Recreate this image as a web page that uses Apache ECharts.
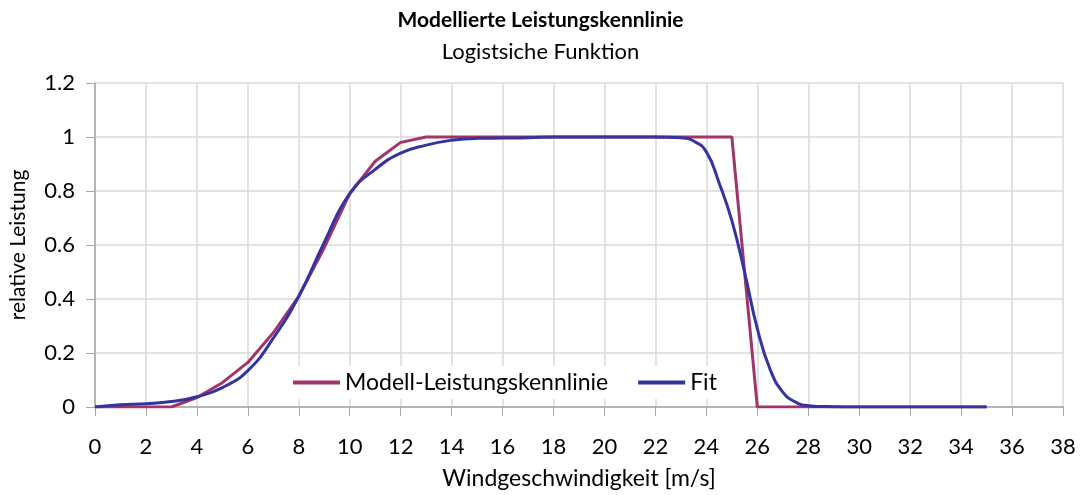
<!DOCTYPE html>
<html>
<head>
<meta charset="utf-8">
<script src="https://cdn.jsdelivr.net/npm/echarts@6/dist/echarts.min.js"></script>
<style>html,body{margin:0;padding:0;background:#fff;overflow:hidden}#c{width:1081px;height:495px}</style>
</head>
<body>
<div id="c"></div>
<script>
const modelX = [0,1,2,3,4,5,6,7,8,9,10,11,12,13,14,15,16,17,18,19,20,21,22,23,24,25,26,27,28,29,30,31,32,33,34,35];
const modelY = [0,0,0,0,0.035,0.09,0.165,0.275,0.41,0.59,0.79,0.91,0.98,1,1,1,1,1,1,1,1,1,1,1,1,1,0,0,0,0,0,0,0,0,0,0];
const fitX = [0,1,2,3,4,5,6,7,8,9,10,11,12,13,14,15,16,17,18,19,20,21,22,23,23.5,24,24.5,25,25.5,26,26.5,27,27.5,28,29,30,31,32,33,34,35];
const fitY = [0,0.008,0.012,0.02,0.038,0.072,0.135,0.255,0.41,0.61,0.79,0.88,0.94,0.97,0.988,0.995,0.996,0.997,1,1,1,1,1,0.997,0.985,0.945,0.83,0.69,0.5,0.29,0.14,0.055,0.018,0.005,0.001,0,0,0,0,0,0];
const seriesNames = ['Modell-Leistungskennlinie','Fit'];
const titleText = 'Modellierte Leistungskennlinie';
const subtitleText = 'Logistsiche Funktion';
const xName = 'Windgeschwindigkeit [m/s]';
const yName = 'relative Leistung';

const FONT = 'Lato';
const chart = echarts.init(document.getElementById('c'), null, {renderer:'canvas'});
chart.setOption({
  animation:false,
  backgroundColor:'#fff',
  textStyle:{fontFamily:FONT},
  title:[
    {text:titleText,left:'center',top:5,textStyle:{fontFamily:FONT,fontWeight:'bold',fontSize:21,color:'#000'}},
    {text:subtitleText,left:'center',top:36,textStyle:{fontFamily:FONT,fontWeight:'normal',fontSize:22,color:'#000'}}
  ],
  legend:{
    data:seriesNames,
    left:287, top:366,
    backgroundColor:'#fff',
    padding:[5,6],
    itemGap:30,
    icon:'rect', itemWidth:47, itemHeight:4,
    textStyle:{fontFamily:FONT,fontSize:23,color:'#000'}
  },
  grid:{left:92,right:18,top:83,height:328,containLabel:false},
  xAxis:{
    type:'value',min:0,max:38,interval:2,
    name:xName,nameLocation:'middle',nameGap:60,
    nameTextStyle:{fontFamily:FONT,fontSize:23,color:'#000'},
    axisLine:{show:true,onZero:false,lineStyle:{color:'#a6a6a6',width:1.5}},
    axisTick:{show:true,length:9,lineStyle:{color:'#a6a6a6'}},
    axisLabel:{fontFamily:FONT,fontSize:22,color:'#000',margin:29},
    splitLine:{show:true,lineStyle:{color:'#d9d9d9',width:1.5}}
  },
  yAxis:{
    type:'value',min:0,max:1.2,interval:0.2,
    name:yName,nameLocation:'middle',nameGap:66,nameRotate:90,
    nameTextStyle:{fontFamily:FONT,fontSize:21,color:'#000'},
    axisLine:{show:true,lineStyle:{color:'#a6a6a6',width:1.5}},
    axisTick:{show:true,length:9,lineStyle:{color:'#a6a6a6'}},
    axisLabel:{fontFamily:FONT,fontSize:22,color:'#000',margin:20},
    splitLine:{show:true,lineStyle:{color:'#d9d9d9',width:1.5}}
  },
  series:[
    {name:seriesNames[0],type:'line',data:modelX.map((x,i)=>[x,modelY[i]]),
     showSymbol:false,symbol:'none',color:'#a03569',lineStyle:{width:3,color:'#a03569'}},
    {name:seriesNames[1],type:'line',data:fitX.map((x,i)=>[x,fitY[i]]),
     showSymbol:false,symbol:'none',smooth:0.5,color:'#3434a0',lineStyle:{width:3,color:'#3434a0'}}
  ]
});
</script>
</body>
</html>
